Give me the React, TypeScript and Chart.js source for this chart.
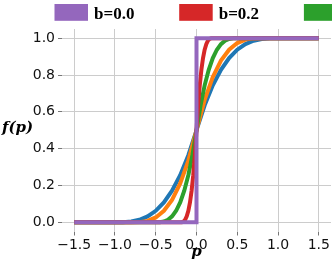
import React, { useEffect, useRef } from 'react';
import { Chart, registerables } from 'chart.js';

Chart.register(...registerables);

// ---- data ----
const xTickValues = [-1.5, -1.0, -0.5, 0, 0.5, 1.0, 1.5];
const xTickLabels = ['−1.5', '−1.0', '−0.5', '0.0', '0.5', '1.0', '1.5'];
const yTickValues = [0, 0.2, 0.4, 0.6, 0.8, 1.0];
const yTickLabels = ['0.0', '0.2', '0.4', '0.6', '0.8', '1.0'];

const seriesLabels = ['b=0.0', 'b=0.2', 'b=0.5', 'b=0.8', 'b=1.0'];
const seriesColors = ['#9467bd', '#d62728', '#2ca02c', '#ff7f0e', '#1f77b4'];

const pB00 = [-1.5, 0, 0, 1.5];
const fB00 = [0, 0, 1, 1];

const pB02 = [-1.5, -0.2, -0.18, -0.16, -0.14, -0.12, -0.1, -0.08, -0.06, -0.04, -0.02, 0, 0.02, 0.04, 0.06, 0.08, 0.1, 0.12, 0.14, 0.16, 0.18, 0.2, 1.5];
const fB02 = [0, 0, 0.0005, 0.004, 0.0135, 0.032, 0.0625, 0.108, 0.1715, 0.256, 0.3645, 0.5, 0.6355, 0.744, 0.8285, 0.892, 0.9375, 0.968, 0.9865, 0.996, 0.9995, 1, 1];

const pB05 = [-1.5, -0.5, -0.45, -0.4, -0.35, -0.3, -0.25, -0.2, -0.15, -0.1, -0.05, 0, 0.05, 0.1, 0.15, 0.2, 0.25, 0.3, 0.35, 0.4, 0.45, 0.5, 1.5];
const fB05 = [0, 0, 0.0005, 0.004, 0.0135, 0.032, 0.0625, 0.108, 0.1715, 0.256, 0.3645, 0.5, 0.6355, 0.744, 0.8285, 0.892, 0.9375, 0.968, 0.9865, 0.996, 0.9995, 1, 1];

const pB08 = [-1.5, -0.8, -0.7, -0.6, -0.5, -0.4, -0.3, -0.2, -0.1, 0, 0.1, 0.2, 0.3, 0.4, 0.5, 0.6, 0.7, 0.8, 1.5];
const fB08 = [0, 0, 0.001, 0.0078, 0.0264, 0.0625, 0.122, 0.211, 0.335, 0.5, 0.665, 0.789, 0.878, 0.9375, 0.9736, 0.9922, 0.999, 1, 1];

const pB10 = [-1.5, -1.0, -0.9, -0.8, -0.7, -0.6, -0.5, -0.4, -0.3, -0.2, -0.1, 0, 0.1, 0.2, 0.3, 0.4, 0.5, 0.6, 0.7, 0.8, 0.9, 1.0, 1.5];
const fB10 = [0, 0, 0.0005, 0.004, 0.0135, 0.032, 0.0625, 0.108, 0.1715, 0.256, 0.3645, 0.5, 0.6355, 0.744, 0.8285, 0.892, 0.9375, 0.968, 0.9865, 0.996, 0.9995, 1, 1];

const seriesP = [pB00, pB02, pB05, pB08, pB10];
const seriesF = [fB00, fB02, fB05, fB08, fB10];

const xAxisTitle = 'p';
const yAxisTitle = 'f(p)';

const overlay = {
  id: 'overlay',
  afterDraw(chart: any) {
    const ctx = chart.ctx;
    ctx.save();
    // legend
    ctx.font = 'bold 17px "Liberation Serif"';
    ctx.textBaseline = 'alphabetic';
    ctx.textAlign = 'left';
    chart.data.datasets.forEach((ds: any, i: number) => {
      const x0 = 54.5 + 124.7 * i;
      ctx.fillStyle = ds.borderColor;
      ctx.fillRect(x0, 4, 33.5, 16.8);
      ctx.fillStyle = '#000';
      ctx.fillText(ds.label, x0 + 39.5, 18.5);
    });
    // axis titles
    const ca = chart.chartArea;
    ctx.font = 'bold italic 15px "DejaVu Serif"';
    ctx.fillStyle = '#000';
    ctx.textAlign = 'center';
    ctx.textBaseline = 'middle';
    ctx.fillText(yAxisTitle, 17.5, (ca.top + ca.bottom) / 2 - 2);
    ctx.textBaseline = 'alphabetic';
    ctx.fillText(xAxisTitle, (ca.left + ca.right) / 2, 256);
    ctx.restore();
  },
};

export default function App() {
  const ref = useRef<HTMLCanvasElement>(null);
  useEffect(() => {
    const chart = new Chart(ref.current as HTMLCanvasElement, {
      type: 'line',
      data: {
        datasets: seriesLabels.map((label, k) => ({
          label,
          data: seriesP[k].map((x, i) => ({ x, y: seriesF[k][i] })),
          borderColor: seriesColors[k],
          backgroundColor: seriesColors[k],
          borderWidth: 4,
          pointRadius: 0,
          tension: 0,
          fill: false,
        })),
      },
      options: {
        animation: false,
        responsive: false,
        devicePixelRatio: 1,
        layout: { padding: { top: 29, right: 1, left: 0, bottom: 0 } },
        plugins: { legend: { display: false }, tooltip: { enabled: false } },
        scales: {
          x: {
            type: 'linear',
            min: -1.65,
            max: 1.65,
            afterBuildTicks: (s: any) => {
              s.ticks = xTickValues.map((v) => ({ value: v }));
            },
            afterFit: (s: any) => {
              s.height = 38.5;
            },
            ticks: {
              callback: (v: any) => xTickLabels[xTickValues.indexOf(Number(v))],
              font: { family: 'DejaVu Sans', size: 14 },
              color: '#111',
              padding: 1,
              maxRotation: 0,
              autoSkip: false,
            },
            grid: { color: '#cccccc', lineWidth: 1, tickLength: 4, tickColor: '#777' },
            border: { display: false },
          },
          y: {
            type: 'linear',
            min: -0.05,
            max: 1.05,
            afterBuildTicks: (s: any) => {
              s.ticks = yTickValues.map((v) => ({ value: v }));
            },
            afterFit: (s: any) => {
              s.width = 62;
            },
            ticks: {
              callback: (v: any) => yTickLabels[yTickValues.indexOf(Number(v))],
              font: { family: 'DejaVu Sans', size: 14 },
              color: '#111',
              padding: 3,
              autoSkip: false,
            },
            grid: { color: '#cccccc', lineWidth: 1, tickLength: 4, tickColor: '#777' },
            border: { display: false },
          },
        },
      },
      plugins: [overlay],
    });
    return () => chart.destroy();
  }, []);
  return (
    <div style={{ position: 'absolute', left: 0, top: 0, width: 332, height: 270, overflow: 'hidden', background: '#fff' }}>
      <canvas ref={ref} width={332} height={270} style={{ display: 'block' }} />
    </div>
  );
}
